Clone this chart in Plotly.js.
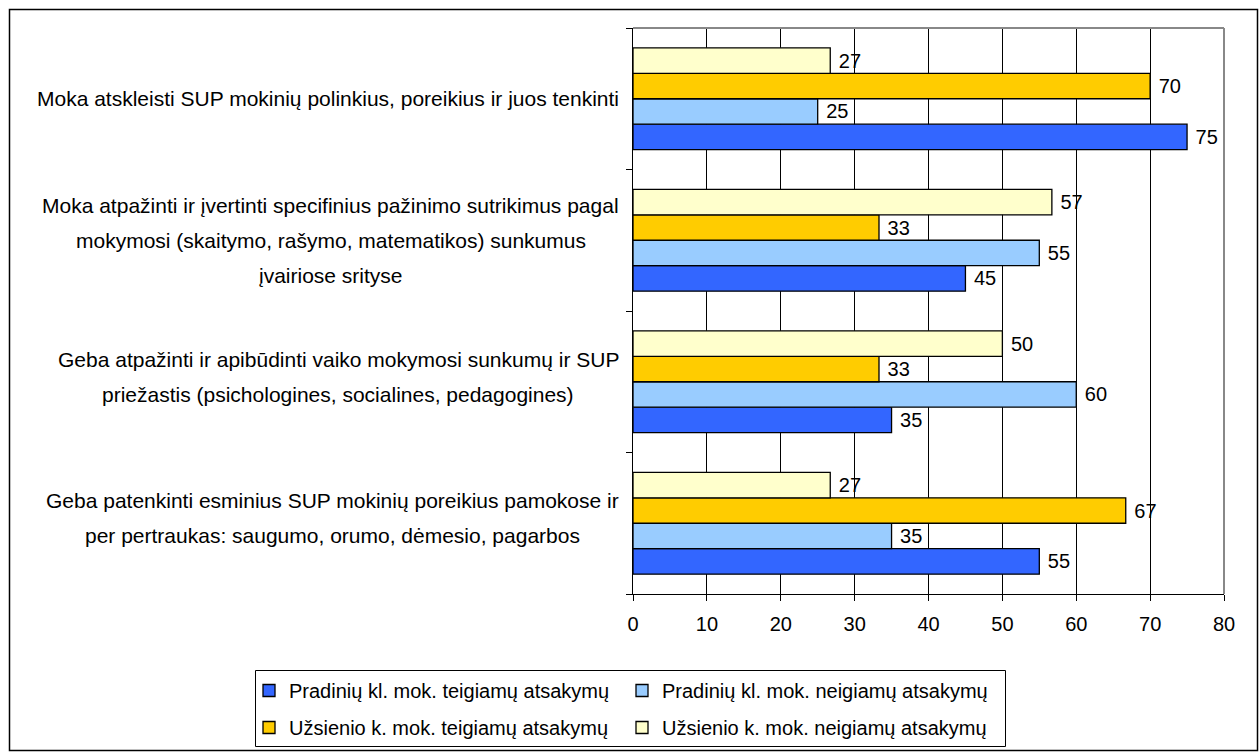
<!DOCTYPE html>
<html>
<head>
<meta charset="utf-8">
<script src="https://cdn.plot.ly/plotly-3.0.1.min.js"></script>
<style>html,body{margin:0;padding:0;background:#fff;}#chart{width:1260px;height:752px;}</style>
</head>
<body>
<div id="chart"></div>
<script>
// Categories (top to bottom as displayed) and their label lines
const categories = ["cat1", "cat2", "cat3", "cat4"];
const categoryLines = [
  ["Moka atskleisti SUP mokinių polinkius, poreikius ir juos tenkinti"],
  ["Moka atpažinti ir įvertinti specifinius pažinimo sutrikimus pagal",
   "mokymosi (skaitymo, rašymo, matematikos) sunkumus",
   "įvairiose srityse"],
  ["Geba atpažinti ir apibūdinti vaiko mokymosi sunkumų ir SUP",
   "priežastis (psichologines, socialines, pedagogines)"],
  ["Geba patenkinti esminius SUP mokinių poreikius pamokose ir",
   "per pertraukas: saugumo, orumo, dėmesio, pagarbos"]
];
const seriesNames = [
  "Pradinių kl. mok. teigiamų atsakymų",
  "Pradinių kl. mok. neigiamų atsakymų",
  "Užsienio k. mok. teigiamų atsakymų",
  "Užsienio k. mok. neigiamų atsakymų"
];
const pradiniuTeigiamu = [75, 45, 35, 55];
const pradiniuNeigiamu = [25, 55, 60, 35];
const uzsienioTeigiamu = [70, 33.3, 33.3, 66.7];
const uzsienioNeigiamu = [26.7, 56.7, 50, 26.7];
const xTicks = [0, 10, 20, 30, 40, 50, 60, 70, 80];

const seriesValues = [pradiniuTeigiamu, pradiniuNeigiamu, uzsienioTeigiamu, uzsienioNeigiamu];
const seriesColors = ["#3366FF", "#99CCFF", "#FFCC00", "#FFFFCC"];
const seriesLegend = ['legend', 'legend', 'legend2', 'legend2'];

const FONT = '"Liberation Sans", Arial, sans-serif';
const W = 1260, H = 752;
const M = {l: 633, r: 36, t: 28, b: 158, autoexpand: false};
const plotW = W - M.l - M.r, plotH = H - M.t - M.b;
const px2x = p => (p - M.l) / plotW;
const py2y = p => (H - M.b - p) / plotH;

const traces = seriesValues.map((vals, i) => ({
  type: 'bar',
  orientation: 'h',
  name: seriesNames[i],
  legend: seriesLegend[i],
  x: vals,
  y: categories,
  marker: {color: seriesColors[i], line: {color: '#000', width: 1.3}},
  texttemplate: '\u00a0%{x:.0f}',
  textposition: 'outside',
  constraintext: 'none',
  cliponaxis: false,
  textfont: {family: FONT, size: 20, color: '#000'},
  hoverinfo: 'x+name'
}));

// category label annotations, one per line, block centred on widest line
const ctx = document.createElement('canvas').getContext('2d');
const LABEL_SIZE = 21;
ctx.font = LABEL_SIZE + 'px "Liberation Sans"';
const annotations = [];
const LINE_GAP = 35;
const RIGHT_EDGE = 619;
categoryLines.forEach((lines, ci) => {
  const maxW = Math.max(...lines.map(s => ctx.measureText(s).width));
  const cx = RIGHT_EDGE - maxW / 2;
  const lift = lines.length === 2 ? 5 : 0;
  lines.forEach((s, li) => {
    const off = (li - (lines.length - 1) / 2) * LINE_GAP;
    annotations.push({
      xref: 'paper', yref: 'y', x: px2x(cx), y: categories[ci],
      xanchor: 'center', yanchor: 'middle', yshift: -off + lift,
      text: s, showarrow: false,
      font: {family: FONT, size: LABEL_SIZE, color: '#000'}
    });
  });
});

const legendBase = {
  orientation: 'h', xanchor: 'left', yanchor: 'top',
  borderwidth: 0, bgcolor: 'rgba(0,0,0,0)',
  entrywidth: 328, entrywidthmode: 'pixels',
  font: {family: FONT, size: 20, color: '#000'},
  traceorder: 'normal'
};

const layout = {
  width: W, height: H,
  margin: M,
  paper_bgcolor: '#fff', plot_bgcolor: '#fff',
  font: {family: FONT, size: 20, color: '#000'},
  barmode: 'group', bargap: 0.28, bargroupgap: 0,
  showlegend: true,
  legend: Object.assign({}, legendBase, {x: px2x(249), y: py2y(671)}),
  legend2: Object.assign({}, legendBase, {x: px2x(249), y: py2y(708)}),
  xaxis: {
    range: [0, 80], tickvals: xTicks, ticktext: xTicks.map(String),
    showgrid: true, gridcolor: '#000', gridwidth: 1,
    showline: true, linecolor: '#000', linewidth: 1,
    ticks: 'outside', ticklen: 6, tickcolor: '#000',
    tickfont: {family: FONT, size: 20, color: '#000'},
    ticklabelstandoff: 6,
    zeroline: false, fixedrange: true
  },
  yaxis: {
    type: 'category', categoryorder: 'array', categoryarray: categories.slice().reverse(),
    showticklabels: false, showgrid: false,
    showline: true, linecolor: '#000', linewidth: 1,
    ticks: 'outside', tickson: 'boundaries', ticklen: 6, tickcolor: '#000',
    zeroline: false, fixedrange: true
  },
  shapes: [
    {type: 'line', xref: 'paper', yref: 'paper', x0: 0, x1: 1, y0: 1, y1: 1,
     line: {color: '#888', width: 2}, layer: 'above'},
    {type: 'line', xref: 'paper', yref: 'paper', x0: 1, x1: 1, y0: 0, y1: 1,
     line: {color: '#888', width: 2}, layer: 'above'},
    {type: 'rect', xref: 'paper', yref: 'paper',
     x0: px2x(9.5), x1: px2x(1257.5), y0: py2y(750.5), y1: py2y(9.5),
     line: {color: '#000', width: 1.5}, fillcolor: 'rgba(0,0,0,0)', layer: 'below'},
    {type: 'rect', xref: 'paper', yref: 'paper',
     x0: px2x(255.5), x1: px2x(1005.5), y0: py2y(746.5), y1: py2y(670.5),
     line: {color: '#000', width: 1}, fillcolor: 'rgba(0,0,0,0)', layer: 'above'}
  ],
  annotations: annotations
};

Plotly.newPlot('chart', traces, layout, {displayModeBar: false, staticPlot: true});
</script>
</body>
</html>
